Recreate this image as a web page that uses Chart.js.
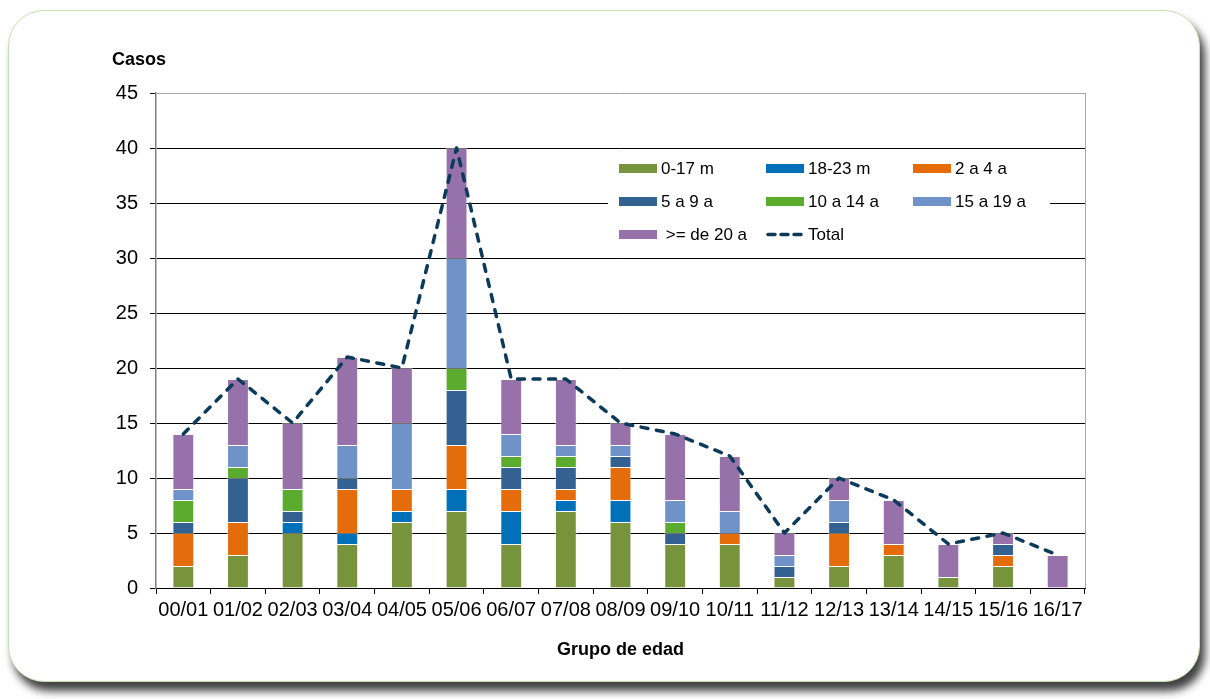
<!DOCTYPE html>
<html>
<head>
<meta charset="utf-8">
<title>Casos por grupo de edad</title>
<script src="https://cdn.jsdelivr.net/npm/chart.js@4.4.1/dist/chart.umd.min.js"></script>
<style>
    html, body { margin: 0; padding: 0; background: #fff; }
    #wrap { position: relative; width: 1210px; height: 699px; overflow: hidden; }
    #card {
        position: absolute; left: 8px; top: 10px; width: 1190px; height: 670px;
        border: 1px solid #c6e0b0; border-radius: 36px; background: #fff;
        box-shadow: 5px 9px 8px rgba(0, 0, 0, 0.75);
    }
    #chart { position: absolute; left: 0; top: 0; }
</style>
</head>
<body>
<div id="wrap">
    <div id="card"></div>
    <canvas id="chart" width="1210" height="699"></canvas>
</div>

<script>
// seasons
var temporadas = ['00/01', '01/02', '02/03', '03/04', '04/05', '05/06', '06/07', '07/08', '08/09',
                  '09/10', '10/11', '11/12', '12/13', '13/14', '14/15', '15/16', '16/17'];

// cases per age group
var m0a17   = [2, 3, 5, 4, 6, 7, 4, 7, 6, 4, 4, 1, 2, 3, 1, 2, 0];
var m18a23  = [0, 0, 1, 1, 1, 2, 3, 1, 2, 0, 0, 0, 0, 0, 0, 0, 0];
var a2a4    = [3, 3, 0, 4, 2, 4, 2, 1, 3, 0, 1, 0, 3, 1, 0, 1, 0];
var a5a9    = [1, 4, 1, 1, 0, 5, 2, 2, 1, 1, 0, 1, 1, 0, 0, 1, 0];
var a10a14  = [2, 1, 2, 0, 0, 2, 1, 1, 0, 1, 0, 0, 0, 0, 0, 0, 0];
var a15a19  = [1, 2, 0, 3, 6, 10, 2, 1, 1, 2, 2, 1, 2, 0, 0, 0, 0];
var a20mas  = [5, 6, 6, 8, 5, 10, 5, 6, 2, 6, 5, 2, 2, 4, 3, 1, 3];
var total   = [14, 19, 15, 21, 20, 40, 19, 19, 15, 14, 12, 5, 10, 8, 4, 5, 3];

var gruposLabels = ['0-17 m', '18-23 m', '2 a 4 a', '5 a 9 a', '10 a 14 a', '15 a 19 a', ' >= de 20 a'];
var gruposColors = ['#77933c', '#0070b8', '#e46c0a', '#336192', '#5bab2f', '#6f93c8', '#9771aa'];
var gruposData = [m0a17, m18a23, a2a4, a5a9, a10a14, a15a19, a20mas];

var datasets = [];
for (var i = 0; i < gruposData.length; i++) {
    datasets.push({
        type: 'bar',
        label: gruposLabels[i],
        data: gruposData[i],
        backgroundColor: gruposColors[i],
        borderColor: 'rgba(255,255,255,0.45)',
        borderWidth: 1,
        stack: 'casos',
        order: 1,
        barPercentage: 0.4,
        categoryPercentage: 1
    });
}
datasets.push({
    type: 'line',
    label: 'Total',
    data: total,
    borderColor: '#0c3a5a',
    borderWidth: 3.5,
    borderDash: [7, 8.5],
    borderCapStyle: 'round',
    borderJoinStyle: 'round',
    pointRadius: 0,
    tension: 0,
    fill: false,
    stack: 'total',
    order: 0
});

// legend box inside the plot + "Casos" label + plot right border
var extras = {
    id: 'extras',
    afterDatasetsDraw: function(chart) {
        var ctx = chart.ctx;
        var area = chart.chartArea;
        ctx.save();

        ctx.strokeStyle = '#a6a6a6';
        ctx.lineWidth = 1;
        ctx.beginPath();
        ctx.moveTo(Math.round(area.right) + 0.5, area.top);
        ctx.lineTo(Math.round(area.right) + 0.5, area.bottom);
        ctx.stroke();

        ctx.fillStyle = '#fff';
        ctx.fillRect(608, 151, 442, 102);

        ctx.font = '17px "Liberation Sans", Arial, sans-serif';
        ctx.textBaseline = 'middle';
        ctx.textAlign = 'left';
        var ds = chart.data.datasets;
        for (var k = 0; k < ds.length; k++) {
            var col = k % 3, row = Math.floor(k / 3);
            var x = 619 + col * 147;
            var y = 168.5 + row * 33;
            if (ds[k].type === 'line') {
                ctx.strokeStyle = ds[k].borderColor;
                ctx.lineWidth = 3.5;
                ctx.lineCap = 'round';
                ctx.setLineDash([7, 6]);
                ctx.beginPath();
                ctx.moveTo(x + 2, y);
                ctx.lineTo(x + 37, y);
                ctx.stroke();
                ctx.setLineDash([]);
            } else {
                ctx.fillStyle = ds[k].backgroundColor;
                ctx.fillRect(x, y - 4.5, 38, 9);
            }
            ctx.fillStyle = '#000';
            ctx.fillText(ds[k].label, x + 42, y + 1);
        }

        ctx.font = 'bold 18px "Liberation Sans", Arial, sans-serif';
        ctx.fillStyle = '#000';
        ctx.fillText('Casos', 112, 60);
        ctx.restore();
    }
};

var tickFont = { family: '"Liberation Sans", Arial, sans-serif', size: 20 };

window.onload = function() {
    var ctx = document.getElementById('chart').getContext('2d');
    window.myChart = new Chart(ctx, {
        type: 'bar',
        data: { labels: temporadas, datasets: datasets },
        plugins: [extras],
        options: {
            responsive: false,
            animation: false,
            layout: { padding: { left: 0, right: 125, top: 93, bottom: 0 } },
            plugins: {
                legend: { display: false },
                tooltip: { enabled: false }
            },
            scales: {
                x: {
                    stacked: true,
                    grid: { drawOnChartArea: false, tickLength: 6, tickColor: '#000' },
                    border: { color: '#000', width: 1 },
                    ticks: { font: tickFont, color: '#000', padding: 4, maxRotation: 0, autoSkip: false },
                    title: {
                        display: true,
                        text: 'Grupo de edad',
                        color: '#000',
                        font: { family: '"Liberation Sans", Arial, sans-serif', size: 18, weight: 'bold' },
                        padding: { top: 0, bottom: 38 }
                    },
                    afterFit: function(scale) { scale.height = 111; }
                },
                y: {
                    stacked: true,
                    min: 0,
                    max: 45,
                    grid: {
                        color: function(c) { return c.tick && c.tick.value === 45 ? '#a6a6a6' : '#000'; },
                        tickColor: '#000',
                        tickLength: 6,
                        lineWidth: 1
                    },
                    border: { color: '#808080', width: 1.5 },
                    ticks: { stepSize: 5, font: tickFont, color: '#000', padding: 12 },
                    afterFit: function(scale) { scale.width = 156; }
                }
            }
        }
    });
};
</script>
</body>
</html>
